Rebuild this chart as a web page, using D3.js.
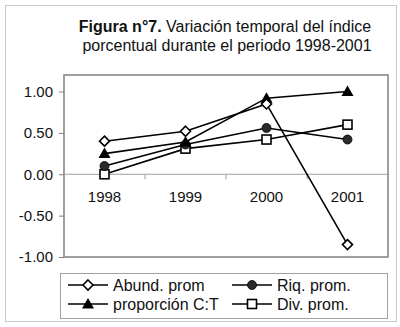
<!DOCTYPE html>
<html>
<head>
<meta charset="utf-8">
<script src="https://cdn.jsdelivr.net/npm/d3@7"></script>
<style>
  body { margin: 0; background: #fff; }
  svg { font-family: "Liberation Sans", Arial, sans-serif; }
</style>
</head>
<body>
<div id="chart"></div>
<script>
// data
var years = ["1998", "1999", "2000", "2001"];
var abund = [0.40, 0.52, 0.85, -0.85];
var riq = [0.10, 0.36, 0.56, 0.42];
var propCT = [0.25, 0.39, 0.92, 1.00];
var div = [0.00, 0.31, 0.42, 0.60];
var yTicks = [1.00, 0.50, 0.00, -0.50, -1.00];

var series = [
    {name: "Abund. prom", values: abund, marker: "diamond"},
    {name: "Riq. prom.", values: riq, marker: "circle"},
    {name: "proporción C:T", values: propCT, marker: "triangle"},
    {name: "Div. prom.", values: div, marker: "square"}
];

var W = 400, H = 327;
var plot = {left: 64, right: 388, top: 75, bottom: 257};

var svg = d3.select("#chart").append("svg")
    .attr("width", W)
    .attr("height", H);

// outer chart border
svg.append("rect")
    .attr("x", 5.5).attr("y", 5.5)
    .attr("width", 391).attr("height", 316)
    .attr("fill", "#fff")
    .attr("stroke", "#c8c8c8");

// title
var title = svg.append("text")
    .attr("x", 225)
    .attr("y", 32)
    .attr("text-anchor", "middle")
    .style("font-size", "16px")
    .style("fill", "#111");
title.append("tspan").style("font-weight", "bold").text("Figura n°7.");
title.append("tspan").text(" Variación temporal del índice");
svg.append("text")
    .attr("x", 227)
    .attr("y", 51)
    .attr("text-anchor", "middle")
    .style("font-size", "16px")
    .style("fill", "#111")
    .text("porcentual durante el periodo 1998-2001");

var xScale = d3.scaleBand()
    .domain(years)
    .range([plot.left, plot.right]);

var yScale = d3.scaleLinear()
    .domain([-1, 1.2])
    .range([plot.bottom, plot.top]);

// plot area
svg.append("rect")
    .attr("x", plot.left).attr("y", plot.top)
    .attr("width", plot.right - plot.left)
    .attr("height", plot.bottom - plot.top)
    .attr("fill", "#fff")
    .attr("stroke", "#808080")
    .attr("stroke-width", 1.5);

// y axis (plain hyphen for negatives, like the original)
var fmt = function(d) { return d.toFixed(2); };
var yAxis = d3.axisLeft(yScale)
    .tickValues(yTicks)
    .tickFormat(fmt)
    .tickSize(5)
    .tickPadding(6);
var gy = svg.append("g")
    .attr("transform", "translate(" + plot.left + ",0)")
    .call(yAxis);
gy.select(".domain").remove();
gy.selectAll(".tick line").attr("stroke", "#808080");
gy.selectAll("text").style("font-size", "15px").style("fill", "#111");

// category axis crossing at zero, ticks between categories
var gx = svg.append("g")
    .attr("transform", "translate(0," + yScale(0) + ")");
gx.append("line")
    .attr("x1", plot.left).attr("x2", plot.right)
    .attr("stroke", "#a0a0a0");
gx.selectAll(".xtick")
    .data(years.slice(1))
    .enter().append("line")
    .attr("x1", function(d) { return xScale(d); })
    .attr("x2", function(d) { return xScale(d); })
    .attr("y1", 0).attr("y2", 5)
    .attr("stroke", "#a0a0a0");
gx.selectAll(".xlabel")
    .data(years)
    .enter().append("text")
    .attr("x", function(d) { return xScale(d) + xScale.bandwidth() / 2; })
    .attr("y", 28)
    .attr("text-anchor", "middle")
    .style("font-size", "15px")
    .style("fill", "#111")
    .text(function(d) { return d; });

function drawMarker(g, type, x, y) {
    if (type == "diamond") {
        g.append("path")
            .attr("d", "M" + x + "," + (y - 5) + "L" + (x + 5) + "," + y + "L" + x + "," + (y + 5) + "L" + (x - 5) + "," + y + "Z")
            .attr("fill", "#fff").attr("stroke", "#000").attr("stroke-width", 1.6);
    } else if (type == "circle") {
        g.append("circle")
            .attr("cx", x).attr("cy", y).attr("r", 4.5)
            .attr("fill", "#2a2a2a").attr("stroke", "#000").attr("stroke-width", 0.8);
    } else if (type == "triangle") {
        g.append("path")
            .attr("d", "M" + x + "," + (y - 6) + "L" + (x + 6) + "," + (y + 4.5) + "L" + (x - 6) + "," + (y + 4.5) + "Z")
            .attr("fill", "#000");
    } else {
        g.append("rect")
            .attr("x", x - 4.5).attr("y", y - 4.5)
            .attr("width", 9).attr("height", 9)
            .attr("fill", "#fff").attr("stroke", "#000").attr("stroke-width", 1.6);
    }
}

var line = d3.line()
    .x(function(d, i) { return xScale(years[i]) + xScale.bandwidth() / 2; })
    .y(function(d) { return yScale(d); });

// draw in reverse so the diamond series sits on top like the original
var order = [3, 1, 2, 0];
order.forEach(function(k) {
    var s = series[k];
    var g = svg.append("g");
    g.append("path")
        .attr("d", line(s.values))
        .attr("fill", "none")
        .attr("stroke", "#000")
        .attr("stroke-width", 1.6);
    s.values.forEach(function(v, i) {
        drawMarker(g, s.marker, xScale(years[i]) + xScale.bandwidth() / 2, yScale(v));
    });
});

// legend
var legend = svg.append("g");
legend.append("rect")
    .attr("x", 60.5).attr("y", 273.5)
    .attr("width", 327).attr("height", 45)
    .attr("fill", "#fff")
    .attr("stroke", "#a0a0a0");

var legPos = [
    {x: 68, y: 285}, {x: 232, y: 285},
    {x: 68, y: 304}, {x: 232, y: 304}
];
series.forEach(function(s, i) {
    var p = legPos[i];
    var g = legend.append("g");
    g.append("line")
        .attr("x1", p.x).attr("x2", p.x + 40)
        .attr("y1", p.y).attr("y2", p.y)
        .attr("stroke", "#000").attr("stroke-width", 1.6);
    drawMarker(g, s.marker, p.x + 20, p.y);
    g.append("text")
        .attr("x", p.x + 45)
        .attr("y", p.y + 5.5)
        .style("font-size", "16px")
        .style("fill", "#111")
        .text(s.name);
});
</script>
</body>
</html>
